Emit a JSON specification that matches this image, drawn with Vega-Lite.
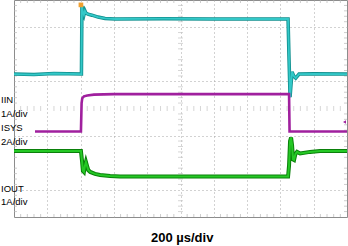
{
  "$schema": "https://vega.github.io/schema/vega-lite/v6.json",
  "width": 333,
  "height": 217,
  "autosize": {"type": "none"},
  "padding": {"left": 14, "top": 0, "right": 1, "bottom": 29},
  "background": "white",
  "config": {
    "view": {"stroke": "#8c8c8c", "strokeWidth": 1},
    "font": "Liberation Sans",
    "axis": {"grid": true, "gridDash": [1, 3], "gridColor": "#a4a4a4", "gridWidth": 1, "domain": false, "ticks": false, "labels": false, "title": null}
  },
  "datasets": {
    "traces": [
      {"ch": "IIN", "t": 0, "v": 1.27}, {"ch": "IIN", "t": 120, "v": 1.25}, {"ch": "IIN", "t": 240, "v": 1.29}, {"ch": "IIN", "t": 405, "v": 1.27},
      {"ch": "IIN", "t": 408, "v": 3.78}, {"ch": "IIN", "t": 414, "v": 3.56}, {"ch": "IIN", "t": 420, "v": 3.45}, {"ch": "IIN", "t": 426, "v": 3.6},
      {"ch": "IIN", "t": 432, "v": 3.52}, {"ch": "IIN", "t": 444, "v": 3.48}, {"ch": "IIN", "t": 468, "v": 3.44}, {"ch": "IIN", "t": 505, "v": 3.37},
      {"ch": "IIN", "t": 547, "v": 3.32}, {"ch": "IIN", "t": 607, "v": 3.30}, {"ch": "IIN", "t": 900, "v": 3.31}, {"ch": "IIN", "t": 1200, "v": 3.30},
      {"ch": "IIN", "t": 1646, "v": 3.30}, {"ch": "IIN", "t": 1652, "v": 1.79}, {"ch": "IIN", "t": 1658, "v": 0.42}, {"ch": "IIN", "t": 1664, "v": 0.9},
      {"ch": "IIN", "t": 1670, "v": 1.35}, {"ch": "IIN", "t": 1680, "v": 1.2}, {"ch": "IIN", "t": 1692, "v": 1.12}, {"ch": "IIN", "t": 1712, "v": 1.27},
      {"ch": "IIN", "t": 1800, "v": 1.28}, {"ch": "IIN", "t": 2000, "v": 1.27},
      {"ch": "ISYS", "t": 126, "v": -0.85}, {"ch": "ISYS", "t": 402, "v": -0.85}, {"ch": "ISYS", "t": 406, "v": 0.2}, {"ch": "ISYS", "t": 410, "v": 0.38},
      {"ch": "ISYS", "t": 420, "v": 0.45}, {"ch": "ISYS", "t": 440, "v": 0.48}, {"ch": "ISYS", "t": 480, "v": 0.51}, {"ch": "ISYS", "t": 600, "v": 0.53},
      {"ch": "ISYS", "t": 1652, "v": 0.53}, {"ch": "ISYS", "t": 1655, "v": -0.85}, {"ch": "ISYS", "t": 2000, "v": -0.85},
      {"ch": "IOUT", "t": 0, "v": -1.57}, {"ch": "IOUT", "t": 402, "v": -1.57}, {"ch": "IOUT", "t": 408, "v": -1.9}, {"ch": "IOUT", "t": 414, "v": -2.3},
      {"ch": "IOUT", "t": 420, "v": -2.34}, {"ch": "IOUT", "t": 426, "v": -2.12}, {"ch": "IOUT", "t": 432, "v": -1.97}, {"ch": "IOUT", "t": 438, "v": -2.1},
      {"ch": "IOUT", "t": 446, "v": -2.27}, {"ch": "IOUT", "t": 458, "v": -2.34}, {"ch": "IOUT", "t": 486, "v": -2.41}, {"ch": "IOUT", "t": 517, "v": -2.45},
      {"ch": "IOUT", "t": 577, "v": -2.49}, {"ch": "IOUT", "t": 637, "v": -2.51}, {"ch": "IOUT", "t": 1646, "v": -2.51}, {"ch": "IOUT", "t": 1652, "v": -2.1},
      {"ch": "IOUT", "t": 1658, "v": -1.2}, {"ch": "IOUT", "t": 1664, "v": -1.07}, {"ch": "IOUT", "t": 1670, "v": -1.35}, {"ch": "IOUT", "t": 1676, "v": -1.88},
      {"ch": "IOUT", "t": 1682, "v": -1.9}, {"ch": "IOUT", "t": 1690, "v": -1.68}, {"ch": "IOUT", "t": 1700, "v": -1.6}, {"ch": "IOUT", "t": 1718, "v": -1.66},
      {"ch": "IOUT", "t": 1778, "v": -1.6}, {"ch": "IOUT", "t": 1838, "v": -1.57}, {"ch": "IOUT", "t": 2000, "v": -1.57}
    ],
    "xm": [
      {"t": 40}, {"t": 80}, {"t": 120}, {"t": 160}, {"t": 240}, {"t": 280}, {"t": 320}, {"t": 360}, {"t": 440}, {"t": 480},
      {"t": 520}, {"t": 560}, {"t": 640}, {"t": 680}, {"t": 720}, {"t": 760}, {"t": 840}, {"t": 880}, {"t": 920}, {"t": 960},
      {"t": 1040}, {"t": 1080}, {"t": 1120}, {"t": 1160}, {"t": 1240}, {"t": 1280}, {"t": 1320}, {"t": 1360}, {"t": 1440}, {"t": 1480},
      {"t": 1520}, {"t": 1560}, {"t": 1640}, {"t": 1680}, {"t": 1720}, {"t": 1760}, {"t": 1840}, {"t": 1880}, {"t": 1920}, {"t": 1960}
    ],
    "ym": [
      {"v": -3.8}, {"v": -3.6}, {"v": -3.4}, {"v": -3.2}, {"v": -2.8}, {"v": -2.6}, {"v": -2.4}, {"v": -2.2},
      {"v": -1.8}, {"v": -1.6}, {"v": -1.4}, {"v": -1.2}, {"v": -0.8}, {"v": -0.6}, {"v": -0.4}, {"v": -0.2},
      {"v": 0.2}, {"v": 0.4}, {"v": 0.6}, {"v": 0.8}, {"v": 1.2}, {"v": 1.4}, {"v": 1.6}, {"v": 1.8},
      {"v": 2.2}, {"v": 2.4}, {"v": 2.6}, {"v": 2.8}, {"v": 3.2}, {"v": 3.4}, {"v": 3.6}, {"v": 3.8}
    ],
    "markers": [
      {"name": "trigger", "t": 402, "v": 3.82},
      {"name": "isys", "t": 1985, "v": -0.5}
    ],
    "labels": [
      {"text": "IIN", "t": -78, "v": 0.31},
      {"text": "1A/div", "t": -78, "v": -0.2},
      {"text": "ISYS", "t": -78, "v": -0.72},
      {"text": "2A/div", "t": -78, "v": -1.24},
      {"text": "IOUT", "t": -78, "v": -2.97},
      {"text": "1A/div", "t": -78, "v": -3.45}
    ],
    "caption": [
      {"text": "200 µs/div", "t": 1010, "v": -4.78}
    ]
  },
  "layer": [
    {
      "data": {"name": "xm"},
      "mark": {"type": "tick", "orient": "vertical", "size": 5, "thickness": 1, "color": "#c4c4c4", "clip": true},
      "encoding": {
        "x": {"field": "t", "type": "quantitative", "title": null, "scale": {"domain": [0, 2000], "nice": false, "zero": false},
          "axis": {"values": [200, 400, 600, 800, 1000, 1200, 1400, 1600, 1800]}},
        "y": {"datum": 0, "type": "quantitative", "title": null, "scale": {"domain": [-4, 4], "nice": false, "zero": false},
          "axis": {"values": [-3, -2, -1, 0, 1, 2, 3]}}
      }
    },
    {
      "data": {"name": "xm"},
      "mark": {"type": "tick", "orient": "vertical", "size": 6, "thickness": 1, "color": "#b8b8b8", "clip": true},
      "encoding": {
        "x": {"field": "t", "type": "quantitative", "title": null},
        "y": {"datum": -4, "type": "quantitative", "title": null}
      }
    },
    {
      "data": {"name": "xm"},
      "mark": {"type": "tick", "orient": "vertical", "size": 6, "thickness": 1, "color": "#b8b8b8", "clip": true},
      "encoding": {
        "x": {"field": "t", "type": "quantitative", "title": null},
        "y": {"datum": 4, "type": "quantitative", "title": null}
      }
    },
    {
      "data": {"name": "ym"},
      "mark": {"type": "tick", "orient": "horizontal", "size": 5, "thickness": 1, "color": "#c4c4c4", "clip": true},
      "encoding": {
        "y": {"field": "v", "type": "quantitative", "title": null},
        "x": {"datum": 1000, "type": "quantitative", "title": null}
      }
    },
    {
      "data": {"name": "ym"},
      "mark": {"type": "tick", "orient": "horizontal", "size": 6, "thickness": 1, "color": "#b8b8b8", "clip": true},
      "encoding": {
        "y": {"field": "v", "type": "quantitative", "title": null},
        "x": {"datum": 0, "type": "quantitative", "title": null}
      }
    },
    {
      "data": {"name": "ym"},
      "mark": {"type": "tick", "orient": "horizontal", "size": 6, "thickness": 1, "color": "#b8b8b8", "clip": true},
      "encoding": {
        "y": {"field": "v", "type": "quantitative", "title": null},
        "x": {"datum": 2000, "type": "quantitative", "title": null}
      }
    },
    {
      "data": {"name": "traces"},
      "transform": [{"filter": "datum.ch === 'IIN'"}],
      "mark": {"type": "line", "color": "#11908f", "strokeWidth": 3.5, "clip": true},
      "encoding": {"x": {"field": "t", "type": "quantitative", "title": null}, "y": {"field": "v", "type": "quantitative", "title": null}}
    },
    {
      "data": {"name": "traces"},
      "transform": [{"filter": "datum.ch === 'IIN'"}],
      "mark": {"type": "line", "color": "#33c8c8", "strokeWidth": 1.8, "clip": true},
      "encoding": {"x": {"field": "t", "type": "quantitative", "title": null}, "y": {"field": "v", "type": "quantitative", "title": null}}
    },
    {
      "data": {"name": "traces"},
      "transform": [{"filter": "datum.ch === 'ISYS'"}],
      "mark": {"type": "line", "color": "#a0209e", "strokeWidth": 2.6, "clip": true},
      "encoding": {"x": {"field": "t", "type": "quantitative", "title": null}, "y": {"field": "v", "type": "quantitative", "title": null}}
    },
    {
      "data": {"name": "traces"},
      "transform": [{"filter": "datum.ch === 'IOUT'"}],
      "mark": {"type": "line", "color": "#0a800a", "strokeWidth": 4, "clip": true},
      "encoding": {"x": {"field": "t", "type": "quantitative", "title": null}, "y": {"field": "v", "type": "quantitative", "title": null}}
    },
    {
      "data": {"name": "traces"},
      "transform": [{"filter": "datum.ch === 'IOUT'"}],
      "mark": {"type": "line", "color": "#25c825", "strokeWidth": 2, "clip": true},
      "encoding": {"x": {"field": "t", "type": "quantitative", "title": null}, "y": {"field": "v", "type": "quantitative", "title": null}}
    },
    {
      "data": {"name": "markers"},
      "transform": [{"filter": "datum.name === 'trigger'"}],
      "mark": {"type": "point", "shape": "square", "filled": true, "size": 22, "color": "#f0a030", "opacity": 1},
      "encoding": {"x": {"field": "t", "type": "quantitative", "title": null}, "y": {"field": "v", "type": "quantitative", "title": null}}
    },
    {
      "data": {"name": "markers"},
      "transform": [{"filter": "datum.name === 'isys'"}],
      "mark": {"type": "point", "shape": "triangle-left", "filled": true, "size": 12, "color": "#a0209e", "opacity": 1},
      "encoding": {"x": {"field": "t", "type": "quantitative", "title": null}, "y": {"field": "v", "type": "quantitative", "title": null}}
    },
    {
      "data": {"name": "labels"},
      "mark": {"type": "text", "align": "left", "baseline": "middle", "fontSize": 9.5, "font": "Liberation Sans", "color": "#000"},
      "encoding": {
        "x": {"field": "t", "type": "quantitative", "title": null},
        "y": {"field": "v", "type": "quantitative", "title": null},
        "text": {"field": "text"}
      }
    },
    {
      "data": {"name": "caption"},
      "mark": {"type": "text", "align": "center", "baseline": "middle", "fontSize": 13, "fontWeight": "bold", "font": "Liberation Sans", "color": "#000"},
      "encoding": {
        "x": {"field": "t", "type": "quantitative", "title": null},
        "y": {"field": "v", "type": "quantitative", "title": null},
        "text": {"field": "text"}
      }
    }
  ]
}
